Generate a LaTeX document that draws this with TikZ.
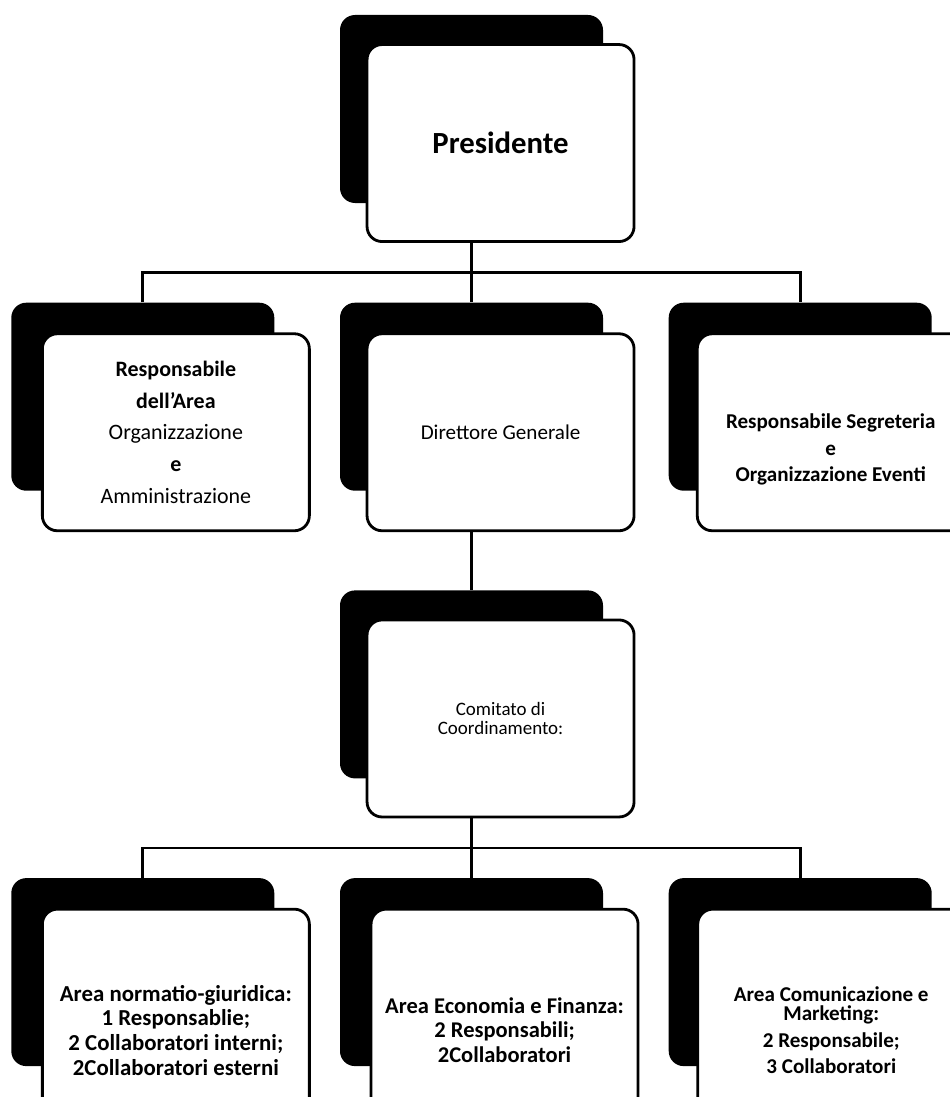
\documentclass[tikz,border=0pt]{standalone}
\usepackage{fontspec}
\setmainfont{Carlito}
\usepackage{xcolor}
\usepackage{tikz}
\usetikzlibrary{calc,positioning}

\begin{document}
\begin{tikzpicture}[
  node distance=1.98cm and 1.3cm,
  back/.style={rectangle, fill=black, rounded corners=0.3cm,
               minimum width=5.26cm, minimum height=3.76cm},
  card/.style={rectangle, draw, fill=white, line width=1.6pt,
               rounded corners=0.3cm, minimum width=5.34cm,
               minimum height=3.94cm, align=center, anchor=north west,
               font=\fontsize{12}{14}\selectfont},
  tall/.style={minimum height=4.84cm},
  link/.style={line width=1.6pt},
]
\useasboundingbox (0,0) rectangle (19,-21.94);
\clip (0,0) rectangle (19,-21.94);

% Shadows (black boxes)
\node[back] (presb) at (9.43,-2.18) {};
\node[back, below=of presb] (dirb) {};
\node[back, left=of dirb] (areab) {};
\node[back, right=of dirb] (segrb) {};
\node[back, below=of dirb] (comb) {};
\node[back, below=of comb] (econb) {};
\node[back, left=of econb] (normb) {};
\node[back, right=of econb] (marketb) {};

% Presidente
\node[card, font=\bfseries\fontsize{17.5}{20}\selectfont]
  (pres) at ([shift={(0.52,-0.57)}]presb.north west) {Presidente};

% Second row
\node[card, font=\fontsize{12.5}{18}\selectfont]
  (area) at ([shift={(0.6,-0.6)}]areab.north west)
  {\textbf{Responsabile}\\\textbf{dell'Area}\\Organizzazione\\\textbf{e}\\Amministrazione};
\node[card] (dir) at ([shift={(0.52,-0.6)}]dirb.north west) {Direttore Generale};
\node[card, font=\bfseries\fontsize{12}{12}\selectfont]
  (segr) at ([shift={(0.55,-0.6)}]segrb.north west)
  {{}\\[16pt]Responsabile Segreteria\\[3pt]e\\[3pt]Organizzazione Eventi};

% Comitato
\node[card, font=\fontsize{10.8}{11}\selectfont]
  (com) at ([shift={(0.52,-0.57)}]comb.north west) {Comitato di\\Coordinamento:};

% Third row
\node[card, tall, font=\bfseries\fontsize{13}{14}\selectfont]
  (norm) at ([shift={(0.6,-0.6)}]normb.north west)
  {Area normatio-giuridica:\\1 Responsablie;\\2 Collaboratori interni;\\2Collaboratori esterni};
\node[card, tall, font=\bfseries\fontsize{12.8}{14}\selectfont]
  (econ) at ([shift={(0.6,-0.6)}]econb.north west)
  {Area Economia e Finanza:\\2 Responsabili;\\2Collaboratori};
\node[card, tall, font=\bfseries\fontsize{12}{11}\selectfont]
  (market) at ([shift={(0.56,-0.6)}]marketb.north west)
  {Area Comunicazione e\\Marketing:\\[4pt]2 Responsabile;\\[4pt]3 Collaboratori};

% Connectors
\coordinate (bus1) at ($(presb |- pres.south)!0.5!(dirb.north)$);
\coordinate (bus2) at ($(comb |- com.south)!0.5!(econb.north)$);
\draw[link] (presb |- pres.south) -- (dirb.north);
\draw[link] (areab.north) |- (bus1) -| (segrb.north);
\draw[link] (dirb |- dir.south) -- (comb.north);
\draw[link] (comb |- com.south) -- (econb.north);
\draw[link] (normb.north) |- (bus2) -| (marketb.north);

\end{tikzpicture}
\end{document}
